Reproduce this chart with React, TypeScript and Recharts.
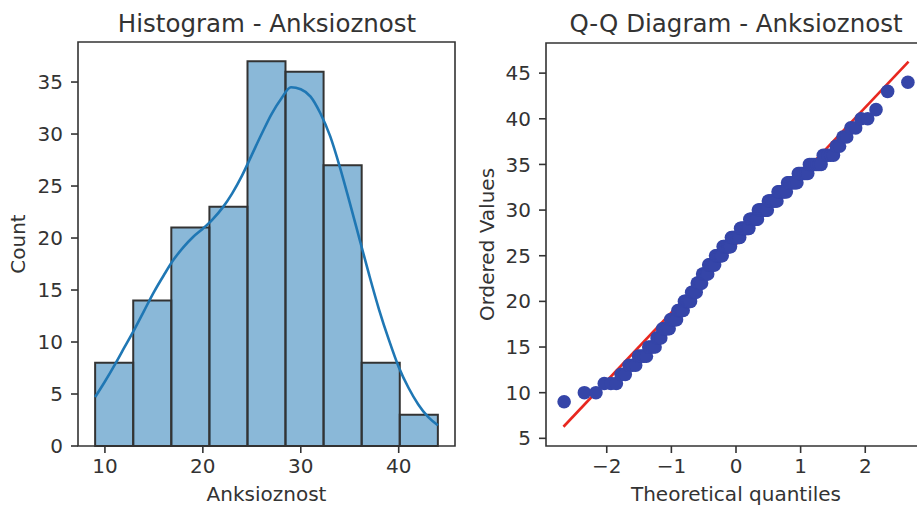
import React from 'react';
import {
  ComposedChart,
  ScatterChart,
  Scatter,
  Line,
  XAxis,
  YAxis,
  ReferenceArea,
  ReferenceLine,
  Label,
} from 'recharts';

const FONT = 'DejaVu Sans';
const INK = '#333333';

// Histogram (bins of Anksioznost)
const binEdges = [9, 12.89, 16.78, 20.67, 24.56, 28.44, 32.33, 36.22, 40.11, 44];
const binCounts = [8, 14, 21, 23, 37, 36, 27, 8, 3];
const histXTicks = [10, 20, 30, 40];
const histYTicks = [0, 5, 10, 15, 20, 25, 30, 35];
const histXDomain = [7.25, 45.75];
const histYDomain = [0, 38.85];

// KDE curve
const kdeX = [9, 10, 11, 12, 13, 14, 15, 16, 17, 18, 19, 20, 21, 22, 23, 24, 25, 26, 27, 28, 29, 30, 31, 32, 33, 34, 35, 36, 37, 38, 39, 40, 41, 42, 43, 44];
const kdeY = [4.7, 6.2, 7.8, 9.5, 11.2, 13.0, 14.8, 16.4, 17.9, 19.1, 20.1, 20.9, 21.8, 22.9, 24.3, 26.0, 28.0, 30.0, 31.9, 33.4, 34.5, 34.3, 33.6, 32.0, 29.8, 26.8, 23.4, 19.9, 16.4, 13.1, 10.2, 7.6, 5.6, 4.0, 2.8, 2.0];

// Q-Q: ordered values (value -> how many times it occurs)
const qqValues = [9, 10, 11, 12, 13, 14, 15, 16, 17, 18, 19, 20, 21, 22, 23, 24, 25, 26, 27, 28, 29, 30, 31, 32, 33, 34, 35, 36, 37, 38, 39, 40, 41, 42, 43, 44];
const qqCounts = [1, 2, 3, 2, 3, 4, 4, 3, 5, 5, 5, 6, 5, 5, 6, 7, 8, 9, 10, 10, 9, 10, 9, 8, 8, 7, 7, 5, 2, 2, 2, 2, 1, 0, 1, 1];
const qqXTicks = [-2, -1, 0, 1, 2];
const qqYTicks = [5, 10, 15, 20, 25, 30, 35, 40, 45];
const qqXDomain = [-2.94, 2.94];
const qqYDomain = [4.16, 48.3];
const fitLineX = [-2.67, 2.67];
const fitLineY = [6.27, 46.27];

// inverse standard normal CDF (Acklam)
function normInv(p: number): number {
  const a = [-3.969683028665376e1, 2.209460984245205e2, -2.759285104469687e2, 1.38357751867269e2, -3.066479806614716e1, 2.506628277459239];
  const b = [-5.447609879822406e1, 1.615858368580409e2, -1.556989798598866e2, 6.680131188771972e1, -1.328068155288572e1];
  const c = [-7.784894002430293e-3, -3.223964580411365e-1, -2.400758277161838, -2.549671010839123, 4.374664141464968, 2.938163982698783];
  const d = [7.784695709041462e-3, 3.224671290700398e-1, 2.445134137142996, 3.754408661907416];
  const pl = 0.02425;
  if (p < pl) {
    const q = Math.sqrt(-2 * Math.log(p));
    return (((((c[0] * q + c[1]) * q + c[2]) * q + c[3]) * q + c[4]) * q + c[5]) / ((((d[0] * q + d[1]) * q + d[2]) * q + d[3]) * q + 1);
  }
  if (p > 1 - pl) {
    const q = Math.sqrt(-2 * Math.log(1 - p));
    return -(((((c[0] * q + c[1]) * q + c[2]) * q + c[3]) * q + c[4]) * q + c[5]) / ((((d[0] * q + d[1]) * q + d[2]) * q + d[3]) * q + 1);
  }
  const q = p - 0.5;
  const r = q * q;
  return (((((a[0] * r + a[1]) * r + a[2]) * r + a[3]) * r + a[4]) * r + a[5]) * q / (((((b[0] * r + b[1]) * r + b[2]) * r + b[3]) * r + b[4]) * r + 1);
}

const sortedValues: number[] = [];
qqValues.forEach((v, i) => {
  for (let k = 0; k < qqCounts[i]; k++) sortedValues.push(v);
});
const N = sortedValues.length;
const qqData = sortedValues.map((v, i) => {
  const rank = i + 1;
  let m: number;
  const mn = Math.pow(0.5, 1 / N);
  if (rank === 1) m = 1 - mn;
  else if (rank === N) m = mn;
  else m = (rank - 0.3175) / (N + 0.365);
  return { z: normInv(m), v };
});

const kdeData = kdeX.map((x, i) => ({ x, y: kdeY[i] }));
const bins = binCounts.map((c, i) => ({ x1: binEdges[i], x2: binEdges[i + 1], c }));

const tickStyle = { fill: INK, fontSize: 20, fontFamily: FONT };
const labelStyle = { fill: INK, fontSize: 20, fontFamily: FONT };

export default function App() {
  return (
    <div style={{ position: 'absolute', left: 0, top: 0, width: 917, height: 507, overflow: 'hidden', background: '#fff' }}>
      <div style={{ position: 'absolute', left: 0, top: 0 }}>
        <ComposedChart width={460} height={507} data={kdeData} margin={{ top: 42, right: 5, bottom: 0, left: 0 }}>
          <XAxis
            type="number"
            dataKey="x"
            domain={histXDomain}
            ticks={histXTicks}
            allowDataOverflow
            height={61}
            tickSize={7}
            tickMargin={6}
            axisLine={false}
            tickLine={{ stroke: INK, strokeWidth: 1.6 }}
            tick={tickStyle}
          >
            <Label value="Anksioznost" position="insideBottom" offset={6} style={labelStyle} />
          </XAxis>
          <YAxis
            type="number"
            domain={histYDomain}
            ticks={histYTicks}
            allowDataOverflow
            width={78}
            tickSize={7}
            tickMargin={8}
            axisLine={false}
            tickLine={{ stroke: INK, strokeWidth: 1.6 }}
            tick={tickStyle}
          >
            <Label value="Count" angle={-90} position="insideLeft" offset={18} style={{ ...labelStyle, textAnchor: 'middle' }} />
          </YAxis>
          {bins.map((b, i) => (
            <ReferenceArea
              key={i}
              x1={b.x1}
              x2={b.x2}
              y1={0}
              y2={b.c}
              fill="#1f77b4"
              fillOpacity={0.52}
              stroke={INK}
              strokeWidth={2}
              strokeOpacity={1}
              ifOverflow="visible"
            />
          ))}
          <Line
            dataKey="y"
            type="monotone"
            stroke="#1f77b4"
            strokeWidth={2.6}
            dot={false}
            activeDot={false}
            isAnimationActive={false}
          />
          <ReferenceArea
            x1={histXDomain[0]}
            x2={histXDomain[1]}
            y1={histYDomain[0]}
            y2={histYDomain[1]}
            fill="none"
            fillOpacity={0}
            stroke={INK}
            strokeWidth={1.6}
            strokeOpacity={1}
            ifOverflow="visible"
          />
        </ComposedChart>
      </div>
      <div style={{ position: 'absolute', left: 460, top: 0 }}>
        <ScatterChart width={480} height={507} margin={{ top: 43, right: 14, bottom: 0, left: 0 }}>
          <XAxis
            type="number"
            dataKey="z"
            domain={qqXDomain}
            ticks={qqXTicks}
            allowDataOverflow
            height={61}
            tickSize={7}
            tickMargin={6}
            axisLine={false}
            tickLine={{ stroke: INK, strokeWidth: 1.6 }}
            tick={tickStyle}
            tickFormatter={(v: number) => (v < 0 ? '\u2212' + Math.abs(v) : String(v))}
          >
            <Label value="Theoretical quantiles" position="insideBottom" offset={6} style={labelStyle} />
          </XAxis>
          <YAxis
            type="number"
            dataKey="v"
            domain={qqYDomain}
            ticks={qqYTicks}
            allowDataOverflow
            width={86}
            tickSize={7}
            tickMargin={8}
            axisLine={false}
            tickLine={{ stroke: INK, strokeWidth: 1.6 }}
            tick={tickStyle}
          >
            <Label value="Ordered Values" angle={-90} position="insideLeft" offset={27} style={{ ...labelStyle, textAnchor: 'middle' }} />
          </YAxis>
          <Scatter
            data={qqData}
            isAnimationActive={false}
            shape={(p: any) => <circle cx={p.cx} cy={p.cy} r={6.8} fill="#3545a8" />}
          />
          <ReferenceLine
            segment={[
              { x: fitLineX[0], y: fitLineY[0] },
              { x: fitLineX[1], y: fitLineY[1] },
            ]}
            stroke="#e8271f"
            strokeWidth={2.6}
            ifOverflow="visible"
          />
          <ReferenceArea
            x1={qqXDomain[0]}
            x2={qqXDomain[1]}
            y1={qqYDomain[0]}
            y2={qqYDomain[1]}
            fill="none"
            fillOpacity={0}
            stroke={INK}
            strokeWidth={1.6}
            strokeOpacity={1}
            ifOverflow="visible"
          />
        </ScatterChart>
      </div>
      <svg width={917} height={507} style={{ position: 'absolute', left: 0, top: 0, pointerEvents: 'none' }}>
        <text x={267} y={32} textAnchor="middle" fontFamily={FONT} fontSize={24.5} fill={INK}>
          Histogram - Anksioznost
        </text>
        <text x={736} y={32} textAnchor="middle" fontFamily={FONT} fontSize={24.5} fill={INK}>
          Q-Q Diagram - Anksioznost
        </text>
      </svg>
    </div>
  );
}
